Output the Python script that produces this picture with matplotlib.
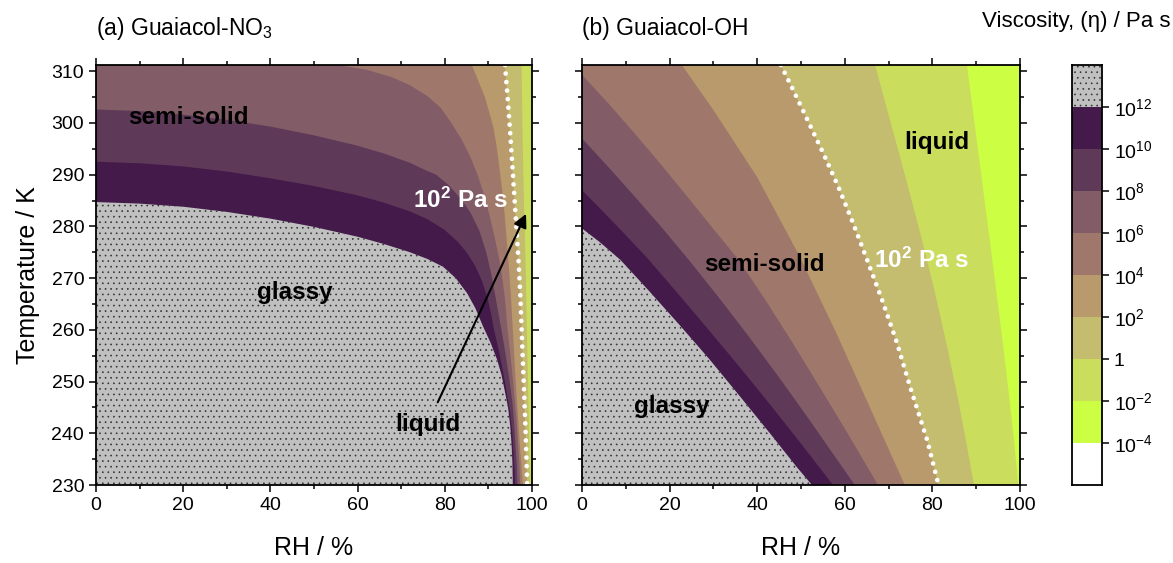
import matplotlib
matplotlib.use('Agg')
import matplotlib.pyplot as plt
from matplotlib.ticker import MultipleLocator

plt.rcParams['font.family'] = ['Liberation Sans', 'DejaVu Sans']
plt.rcParams['mathtext.fontset'] = 'custom'
plt.rcParams['mathtext.rm'] = 'Liberation Sans'
plt.rcParams['mathtext.it'] = 'Liberation Sans:italic'
plt.rcParams['mathtext.bf'] = 'Liberation Sans:bold'
plt.rcParams['hatch.linewidth'] = 0.45

# log10 viscosity levels and the band colours between them (low -> high)
levels = [-4, -2, 0, 2, 4, 6, 8, 10, 12]
band_colors = ['#ffffff', '#ccff44', '#cadd5c', '#c4bc6e', '#b89a6c',
               '#a0786b', '#825d68', '#5e3a58', '#431a4a', '#c0c0c0']
cbar_labels = ['$10^{-4}$', '$10^{-2}$', '1', '$10^{2}$', '$10^{4}$',
               '$10^{6}$', '$10^{8}$', '$10^{10}$', '$10^{12}$']

T_TOP = 311.2

# (a) Guaiacol-NO3 : iso-viscosity lines, RH (%) vs T (K)
a_rh_12 = [0, 10, 20, 30, 40, 50, 60, 66, 72, 76, 79.6, 82.5, 85.1, 87, 88.8, 90.5,
           92.0, 93.0, 93.8, 94.5, 95.0, 95.3, 95.5, 95.6]
a_t_12 = [284.7, 284.4, 283.8, 282.8, 281.5, 279.9, 278.0, 276.6, 275.0, 273.7, 272.2, 270.0,
          267.1, 264.2, 260.6, 257.5, 254.2, 251.3, 248.0, 245.0, 241.5, 238.0, 234.5, 230.0]
a_rh_10 = [0, 10, 20, 30, 40, 50, 60, 66, 72, 76, 80, 83, 85, 87, 88.5, 89.7, 90.6,
           91.3, 92.4, 93.3, 94.1, 95.0, 95.5, 95.8, 96.0, 96.1]
a_t_10 = [292.5, 292.2, 291.6, 290.6, 289.3, 287.8, 286.0, 284.6, 282.9, 281.4, 279.3, 277.0,
          275.0, 272.3, 269.5, 266.5, 263.2, 260.0, 256.0, 252.2, 248.5, 244.0, 240.0, 236.0,
          233.0, 230.0]
a_rh_8 = [0, 10, 20, 30, 40, 50, 60, 66, 72, 76, 78, 81, 84, 86, 88, 89.5, 90.6, 91.5,
          92.3, 93.0, 93.9, 94.8, 95.5, 95.9, 96.2, 96.5, 96.7]
a_t_8 = [302.6, 302.3, 301.6, 300.6, 299.3, 297.6, 295.6, 294.1, 292.3, 290.7, 290.0, 287.9,
         285.0, 282.5, 279.0, 275.0, 271.0, 267.0, 263.2, 260.0, 255.5, 250.5, 246.0, 242.0,
         238.0, 234.0, 230.0]
a_rh_6 = [55.3, 62, 68, 72, 76, 79, 81.5, 84, 86, 87.5, 89, 90.3, 91.4, 92.3, 93.1, 93.8,
          94.4, 95.0, 95.6, 96.1, 96.5, 96.8, 97.1, 97.3]
a_t_6 = [311.2, 310.3, 308.8, 307.3, 305.2, 303.0, 300.0, 296.6, 293.2, 290.0, 286.2, 282.0,
         278.0, 274.5, 270.5, 266.0, 260.0, 255.5, 250.5, 246.0, 242.0, 238.0, 234.0, 230.0]
a_rh_4 = [86.2, 88.0, 89.2, 90.2, 91.1, 91.8, 92.3, 92.8, 93.3, 93.7, 94.1, 94.4, 94.8,
          95.2, 95.6, 96.0, 96.4, 96.8, 97.2, 97.6, 97.9]
a_t_4 = [311.2, 307.5, 305.0, 302.0, 299.3, 296.0, 292.8, 289.5, 286.0, 282.5, 278.5, 275.0,
         271.0, 266.0, 260.0, 254.0, 248.0, 243.0, 238.0, 233.5, 230.0]
a_rh_2 = [93.8, 94.4, 94.9, 95.4, 95.9, 96.4, 96.9, 97.3, 97.6, 97.9, 98.2, 98.5, 98.7, 98.9]
a_t_2 = [311.2, 305.0, 299.3, 293.0, 286.5, 280.0, 273.5, 267.0, 260.6, 254.0, 247.8, 241.0,
         236.0, 230.0]
a_rh_0 = [97.6, 97.8, 98.0, 98.3, 98.6, 98.8, 99.1, 99.3, 99.5]
a_t_0 = [311.2, 300.0, 290.0, 280.0, 270.0, 260.0, 250.0, 240.0, 230.0]

# (b) Guaiacol-OH
b_rh_12 = [0, 4, 8.8, 15, 22, 29, 36, 43, 49, 52.5]
b_t_12 = [279.6, 277.0, 273.5, 267.8, 261.2, 254.4, 247.2, 239.9, 233.5, 230.0]
b_rh_10 = [0, 5, 10, 15.3, 22, 29, 36, 43, 50, 57.3]
b_t_10 = [287.0, 282.7, 278.3, 273.5, 266.9, 259.9, 252.8, 245.5, 238.0, 230.0]
b_rh_8 = [0, 6, 12, 18, 24.4, 31, 38, 45, 52, 57, 62.3]
b_t_8 = [297.0, 291.5, 285.8, 280.0, 273.5, 266.5, 258.8, 250.8, 242.5, 236.4, 230.0]
b_rh_6 = [0, 6, 12, 18, 24, 30, 35.8, 42, 48, 54, 60, 67.6]
b_t_6 = [309.3, 303.8, 298.0, 292.0, 285.8, 279.5, 273.5, 265.6, 257.6, 249.3, 240.9, 230.0]
b_rh_4 = [22.8, 30, 40, 49.5, 58, 66, 73.7]
b_t_4 = [311.2, 302.5, 289.5, 274.5, 259.5, 244.5, 230.0]
b_rh_2 = [45.4, 48.6, 51.3, 55.1, 58.5, 61.9, 65.1, 68.5, 71.9, 74.9, 78.8, 81.4]
b_t_2 = [311.2, 305.7, 300.9, 294.1, 287.7, 280.6, 273.5, 265.8, 257.5, 249.0, 238.7, 230.0]
b_rh_0 = [66.9, 70.5, 74, 77.5, 80.5, 83.3, 86, 88, 89.5]
b_t_0 = [311.2, 300.0, 289.0, 277.8, 267.5, 257.0, 246.0, 237.0, 230.0]
b_rh_m2 = [87.9, 89.6, 91.3, 93.0, 94.5, 96.0, 97.4, 98.6, 99.6]
b_t_m2 = [311.2, 300.0, 289.0, 278.0, 268.0, 258.0, 248.0, 239.0, 230.0]

panel_a = [(0, a_rh_0, a_t_0), (2, a_rh_2, a_t_2), (4, a_rh_4, a_t_4), (6, a_rh_6, a_t_6),
           (8, a_rh_8, a_t_8), (10, a_rh_10, a_t_10), (12, a_rh_12, a_t_12)]
panel_b = [(-2, b_rh_m2, b_t_m2), (0, b_rh_0, b_t_0), (2, b_rh_2, b_t_2), (4, b_rh_4, b_t_4),
           (6, b_rh_6, b_t_6), (8, b_rh_8, b_t_8), (10, b_rh_10, b_t_10), (12, b_rh_12, b_t_12)]


def draw_panel(ax, bounds):
    ax.set_facecolor(band_colors[levels.index(bounds[0][0])])
    for lev, rh, t in bounds:
        j = levels.index(lev) + 1
        xs = list(rh) + [rh[-1], -100, -100]
        ys = list(t) + [100, 100, t[0]]
        if lev == 12:
            ax.fill(xs, ys, facecolor=band_colors[j], edgecolor='#303030',
                    hatch='...', linewidth=0, zorder=1)
        else:
            ax.fill(xs, ys, facecolor=band_colors[j], linewidth=0, zorder=1)
        if lev == 2:
            dotted = (rh, t)
    ax.plot(dotted[0], dotted[1], color='white', lw=3.4,
            linestyle=(0, (0.01, 1.8)), dash_capstyle='round', zorder=3)
    ax.set_xlim(0, 100)
    ax.set_ylim(230, T_TOP)
    ax.xaxis.set_major_locator(MultipleLocator(20))
    ax.xaxis.set_minor_locator(MultipleLocator(10))
    ax.yaxis.set_major_locator(MultipleLocator(10))
    ax.yaxis.set_minor_locator(MultipleLocator(5))
    ax.tick_params(which='both', direction='out', top=True, right=True,
                   labelsize=14, width=1.1)
    ax.tick_params(which='major', length=5)
    ax.tick_params(which='minor', length=3)
    for s in ax.spines.values():
        s.set_linewidth(1.3)
        s.set_zorder(5)
    ax.set_xlabel('RH / %', fontsize=18, labelpad=16)


fig = plt.figure(figsize=(11.73, 5.63), dpi=100)
ax1 = fig.add_axes([96 / 1173, 78 / 563, 436 / 1173, 420 / 563])
ax2 = fig.add_axes([582 / 1173, 78 / 563, 438 / 1173, 420 / 563])
cax = fig.add_axes([1072 / 1173, 78 / 563, 30 / 1173, 420 / 563])

draw_panel(ax1, panel_a)
draw_panel(ax2, panel_b)
ax2.tick_params(labelleft=False)
ax1.set_ylabel('Temperature / K', fontsize=18, labelpad=8)

ax1.text(0.0, 1.088, '(a) Guaiacol-NO$_3$', transform=ax1.transAxes, fontsize=16.5, va='center')
ax2.text(0.0, 1.088, '(b) Guaiacol-OH', transform=ax2.transAxes, fontsize=16.5, va='center')

bold = dict(fontsize=17.5, fontweight='bold', va='center', zorder=4)
ax1.text(7.3, 301.0, 'semi-solid', ha='left', **bold)
ax1.text(45.6, 267.3, 'glassy', ha='center', **bold)
ax1.text(76.0, 241.6, 'liquid', ha='center', **bold)
ax1.text(83.7, 285.1, r'10$^{\mathbf{2}}$ Pa s', ha='center', color='white', **bold)
ax1.annotate('', xy=(98.9, 282.9), xytext=(78.1, 245.5),
             arrowprops=dict(arrowstyle='-|>', color='black', lw=1.5, mutation_scale=20),
             zorder=4)

ax2.text(81.0, 296.3, 'liquid', ha='center', **bold)
ax2.text(77.4, 273.5, r'10$^{\mathbf{2}}$ Pa s', ha='center', color='white', **bold)
ax2.text(41.6, 272.6, 'semi-solid', ha='center', **bold)
ax2.text(20.5, 245.1, 'glassy', ha='center', **bold)

# colour bar
for i, c in enumerate(band_colors):
    if i == len(band_colors) - 1:
        cax.bar(0.5, 1, bottom=i, width=1, color=c, edgecolor='#303030', hatch='...', linewidth=0)
    else:
        cax.bar(0.5, 1, bottom=i, width=1, color=c, linewidth=0)
cax.set_xlim(0, 1)
cax.set_ylim(0, len(band_colors))
cax.set_xticks([])
cax.yaxis.tick_right()
cax.set_yticks(range(1, len(levels) + 1))
cax.set_yticklabels(cbar_labels)
cax.tick_params(axis='y', direction='out', length=5, width=1.1, labelsize=14)
for s in cax.spines.values():
    s.set_linewidth(1.3)
fig.text(1170 / 1173, 1 - 22 / 563, 'Viscosity, (η) / Pa s', ha='right', va='center', fontsize=16)

fig.savefig('out.png', dpi=100)
